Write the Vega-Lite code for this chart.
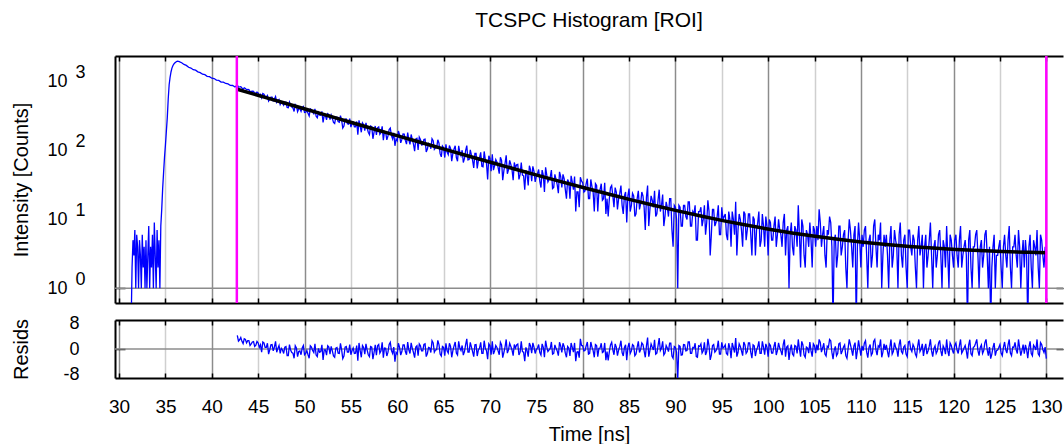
{
"$schema": "https://vega.github.io/schema/vega-lite/v6.json",
"padding": {"left": 10, "top": 9, "right": 0, "bottom": 0},
"spacing": 9,
"config": {
  "view": {"stroke": null},
  "font": "Liberation Sans",
  "axis": {"labelFont": "Liberation Sans", "titleFont": "Liberation Sans", "labelColor": "#000", "titleColor": "#000", "titleFontWeight": "normal", "labelOverlap": false, "labelFlush": false}
},
"datasets": {
"m": [{"t": 42.7}, {"t": 130.0}],
"fit": [
{"t":42.75,"f":775},{"t":45.25,"f":618.1},{"t":47.75,"f":493},{"t":50.25,"f":393.4},{"t":52.75,"f":314.1},{"t":55.25,"f":250.8},{"t":57.75,"f":200.5},{"t":60.25,"f":160.3},{"t":62.75,"f":128.4},{"t":65.25,"f":102.9},{"t":67.75,"f":82.57},{"t":70.25,"f":66.4},{"t":72.75,"f":53.51},{"t":75.25,"f":43.24},{"t":77.75,"f":35.06},{"t":80.25,"f":28.54},{"t":82.75,"f":23.35},{"t":85.25,"f":19.21},{"t":87.75,"f":15.92},{"t":90.25,"f":13.29},{"t":92.75,"f":11.2},{"t":95.25,"f":9.53},{"t":97.75,"f":8.21},{"t":100.25,"f":7.15},{"t":102.75,"f":6.3},{"t":105.25,"f":5.63},{"t":107.75,"f":5.1},{"t":110.25,"f":4.67},{"t":112.75,"f":4.33},{"t":115.25,"f":4.06},{"t":117.75,"f":3.845},{"t":120.25,"f":3.673},{"t":122.75,"f":3.536},{"t":125.25,"f":3.427},{"t":127.75,"f":3.34},{"t":130,"f":3.276}
],
"d": [
{"t":31.3,"c":0.3},{"t":31.4,"c":2},{"t":31.5,"c":5},{"t":31.6,"c":3},{"t":31.7,"c":7},{"t":31.8,"c":1},{"t":31.9,"c":6},{"t":32.0,"c":4},{"t":32.1,"c":1},{"t":32.2,"c":5},{"t":32.3,"c":3},{"t":32.4,"c":1},{"t":32.5,"c":6},{"t":32.6,"c":2},{"t":32.7,"c":4},{"t":32.8,"c":1},{"t":32.9,"c":5},{"t":33.0,"c":1},{"t":33.1,"c":3},{"t":33.2,"c":8},{"t":33.3,"c":1},{"t":33.4,"c":4},{"t":33.5,"c":2},{"t":33.6,"c":6},{"t":33.7,"c":1},{"t":33.8,"c":9},{"t":33.9,"c":3},{"t":34.0,"c":1},{"t":34.1,"c":7},{"t":34.2,"c":2},{"t":34.3,"c":5},{"t":34.4,"c":1},{"t":34.5,"c":8},
{"t":34.6,"c":14},{"t":34.7,"c":28},{"t":34.8,"c":48},{"t":34.9,"c":80},{"t":35.0,"c":120},{"t":35.1,"c":190},{"t":35.2,"c":300},{"t":35.3,"c":560},{"t":35.4,"c":900},{"t":35.5,"c":1150},{"t":35.6,"c":1380},{"t":35.7,"c":1570},{"t":35.8,"c":1700},{"t":35.9,"c":1790},{"t":36.0,"c":1860},{"t":36.1,"c":1910},{"t":36.2,"c":1960},{"t":36.3,"c":1985},{"t":36.4,"c":1970},{"t":36.5,"c":1945},{"t":36.6,"c":1915},{"t":36.75,"c":1880},{"t":37.0,"c":1775},{"t":37.25,"c":1720},{"t":37.5,"c":1615},{"t":37.75,"c":1575},{"t":38.0,"c":1490},{"t":38.25,"c":1465},{"t":38.5,"c":1385},{"t":38.75,"c":1350},{"t":39.0,"c":1280},{"t":39.25,"c":1262},{"t":39.5,"c":1195},{"t":39.75,"c":1180},{"t":40.0,"c":1120},{"t":40.25,"c":1108},{"t":40.5,"c":1050},{"t":40.75,"c":1040},{"t":41.0,"c":985},{"t":41.25,"c":982},{"t":41.5,"c":940},{"t":41.75,"c":928},{"t":42.0,"c":880},{"t":42.25,"c":878},{"t":42.5,"c":835},
{"t":42.75,"c":894,"r":4.3},{"t":43,"c":837,"r":2.9},{"t":43.25,"c":807,"r":2.4},{"t":43.5,"c":813,"r":3.2},{"t":43.75,"c":761,"r":1.9},{"t":44,"c":764,"r":2.6},{"t":44.25,"c":720,"r":1.6},{"t":44.5,"c":723,"r":2.3},{"t":44.75,"c":681,"r":1.2},{"t":45,"c":685,"r":1.9},
{"t":45.25,"c":656,"r":1.3},{"t":45.5,"c":672,"r":2.2},{"t":45.75,"c":605,"r":0.5},{"t":46,"c":630,"r":1.8},{"t":46.25,"c":555,"r":-0.3},{"t":46.5,"c":596,"r":1.4},{"t":46.75,"c":560,"r":0.6},{"t":47,"c":500,"r":-1.0},{"t":47.25,"c":550,"r":1.1},{"t":47.5,"c":508,"r":0.2},
{"t":47.75,"c":455,"r":-1.4},{"t":48,"c":504,"r":0.8},{"t":48.25,"c":417,"r":-2.1},{"t":48.5,"c":453,"r":-0.3},{"t":48.75,"c":416,"r":-1.3},{"t":49,"c":466,"r":1.0},{"t":49.25,"c":367,"r":-2.4},{"t":49.5,"c":405,"r":-0.6},{"t":49.75,"c":420,"r":0.3},{"t":50,"c":356,"r":-1.8},
{"t":50.25,"c":381,"r":-0.5},{"t":50.5,"c":317,"r":-2.9},{"t":50.75,"c":392,"r":0.6},{"t":51,"c":342,"r":-1.1},{"t":51.25,"c":314,"r":-1.9},{"t":51.5,"c":356,"r":0.2},{"t":51.75,"c":324,"r":-0.8},{"t":52,"c":256,"r":-3.4},{"t":52.25,"c":321,"r":-0.3},{"t":52.5,"c":343,"r":1.0},
{"t":52.75,"c":280,"r":-1.6},{"t":53,"c":293,"r":-0.6},{"t":53.25,"c":246,"r":-2.6},{"t":53.5,"c":304,"r":0.5},{"t":53.75,"c":257,"r":-1.4},{"t":54,"c":277,"r":-0.2},{"t":54.25,"c":226,"r":-2.2},{"t":54.5,"c":286,"r":0.8},{"t":54.75,"c":242,"r":-1.0},{"t":55,"c":219,"r":-1.8},
{"t":55.25,"c":257,"r":0.3},{"t":55.5,"c":221,"r":-1.3},{"t":55.75,"c":170,"r":-3.7},{"t":56,"c":225,"r":-0.5},{"t":56.25,"c":251,"r":1.1},{"t":56.5,"c":194,"r":-1.6},{"t":56.75,"c":213,"r":-0.3},{"t":57,"c":170,"r":-2.4},{"t":57.25,"c":222,"r":0.6},{"t":57.5,"c":185,"r":-1.1},
{"t":57.75,"c":168,"r":-1.9},{"t":58,"c":220,"r":1.4},{"t":58.25,"c":182,"r":-0.6},{"t":58.5,"c":141,"r":-2.7},{"t":58.75,"c":185,"r":0.2},{"t":59,"c":163,"r":-1.0},{"t":59.25,"c":211,"r":2.1},{"t":59.5,"c":147,"r":-1.4},{"t":59.75,"c":117,"r":-4.0},{"t":60,"c":138,"r":-1.6},
{"t":60.25,"c":168,"r":0.5},{"t":60.5,"c":145,"r":-0.8},{"t":60.75,"c":173,"r":1.3},{"t":61,"c":124,"r":-1.8},{"t":61.25,"c":143,"r":-0.3},{"t":61.5,"c":171,"r":1.9},{"t":61.75,"c":124,"r":-1.1},{"t":62,"c":147,"r":0.6},{"t":62.25,"c":102,"r":-2.1},{"t":62.5,"c":145,"r":1.0},
{"t":62.75,"c":121,"r":-0.6},{"t":63,"c":146,"r":1.6},{"t":63.25,"c":105,"r":-1.4},{"t":63.5,"c":124,"r":0.3},{"t":63.75,"c":148,"r":2.6},{"t":64,"c":104,"r":-1.0},{"t":64.25,"c":110,"r":-0.2},{"t":64.5,"c":128,"r":1.4},{"t":64.75,"c":81,"r":-2.2},{"t":65,"c":110,"r":0.5},
{"t":65.25,"c":123,"r":1.8},{"t":65.5,"c":87,"r":-1.3},{"t":65.75,"c":107,"r":0.8},{"t":66,"c":91,"r":-0.5},{"t":66.25,"c":117,"r":2.2},{"t":66.5,"c":70,"r":-1.9},{"t":66.75,"c":94,"r":0.3},{"t":67,"c":101,"r":1.1},{"t":67.25,"c":77,"r":-0.8},{"t":67.5,"c":118,"r":3.2},
{"t":67.75,"c":74,"r":-1.0},{"t":68,"c":86,"r":0.6},{"t":68.25,"c":56,"r":-2.4},{"t":68.5,"c":91,"r":1.4},{"t":68.75,"c":72,"r":-0.3},{"t":69,"c":94,"r":2.1},{"t":69.25,"c":58,"r":-1.4},{"t":69.5,"c":73,"r":0.2},{"t":69.75,"c":38,"r":-3.2},{"t":70,"c":77,"r":1.0},
{"t":70.25,"c":88,"r":2.4},{"t":70.5,"c":60,"r":-0.6},{"t":70.75,"c":68,"r":0.5},{"t":71,"c":46,"r":-1.8},{"t":71.25,"c":72,"r":1.3},{"t":71.5,"c":51,"r":-1.1},{"t":71.75,"c":85,"r":3.0},{"t":72,"c":53,"r":-0.3},{"t":72.25,"c":63,"r":0.8},{"t":72.5,"c":37,"r":-2.1},
{"t":72.75,"c":56,"r":0.3},{"t":73,"c":63,"r":1.6},{"t":73.25,"c":45,"r":-1.0},{"t":73.5,"c":44,"r":-0.8},{"t":73.75,"c":27,"r":-3.8},{"t":74,"c":45,"r":-0.5},{"t":74.25,"c":60,"r":1.9},{"t":74.5,"c":36,"r":-1.3},{"t":74.75,"c":50,"r":0.6},{"t":75,"c":42,"r":-0.2},
{"t":75.25,"c":53,"r":1.4},{"t":75.5,"c":29,"r":-1.9},{"t":75.75,"c":44,"r":0.5},{"t":76,"c":57,"r":2.6},{"t":76.25,"c":35,"r":-0.8},{"t":76.5,"c":41,"r":0.2},{"t":76.75,"c":28,"r":-1.6},{"t":77,"c":45,"r":1.3},{"t":77.25,"c":32,"r":-0.6},{"t":77.5,"c":49,"r":2.1},
{"t":77.75,"c":29,"r":-1.1},{"t":78,"c":39,"r":0.8},{"t":78.25,"c":20,"r":-2.6},{"t":78.5,"c":35,"r":0.3},{"t":78.75,"c":43,"r":1.9},{"t":79,"c":27,"r":-1.0},{"t":79.25,"c":13,"r":-3.8},{"t":79.5,"c":25,"r":-0.8},{"t":79.75,"c":41,"r":3.2},{"t":80,"c":34,"r":1.0},
{"t":80.25,"c":26,"r":-0.5},{"t":80.5,"c":39,"r":2.2},{"t":80.75,"c":20,"r":-1.4},{"t":81,"c":30,"r":0.6},{"t":81.25,"c":13,"r":-2.6},{"t":81.5,"c":31,"r":1.1},{"t":81.75,"c":26,"r":0.2},{"t":82,"c":33,"r":1.8},{"t":82.25,"c":20,"r":-0.8},{"t":82.5,"c":12,"r":-3.5},
{"t":82.75,"c":11,"r":-3.6},{"t":83,"c":29,"r":1.3},{"t":83.25,"c":22,"r":-0.3},{"t":83.5,"c":29,"r":1.6},{"t":83.75,"c":14,"r":-2.1},{"t":84,"c":24,"r":0.8},{"t":84.25,"c":16,"r":-1.1},{"t":84.5,"c":22,"r":0.5},{"t":84.75,"c":9,"r":-3.5},{"t":85,"c":28,"r":1.9},
{"t":85.25,"c":16,"r":-0.6},{"t":85.5,"c":22,"r":1.0},{"t":85.75,"c":12,"r":-1.6},{"t":86,"c":26,"r":2.4},{"t":86.25,"c":17,"r":-0.2},{"t":86.5,"c":22,"r":1.4},{"t":86.75,"c":7,"r":-2.6},{"t":87,"c":31,"r":3.6},{"t":87.25,"c":14,"r":-0.5},{"t":87.5,"c":19,"r":0.6},
{"t":87.75,"c":26,"r":2.9},{"t":88,"c":12,"r":-1.3},{"t":88.25,"c":27,"r":3.4},{"t":88.5,"c":16,"r":0.3},{"t":88.75,"c":8,"r":-1.9},{"t":89,"c":18,"r":1.1},{"t":89.25,"c":11,"r":-0.8},{"t":89.5,"c":20,"r":1.8},{"t":89.75,"c":4,"r":-2.9},{"t":90,"c":15,"r":0.5},
{"t":90.25,"c":1,"r":-9.6},{"t":90.5,"c":15,"r":0.8},{"t":90.75,"c":8,"r":-1.8},{"t":91,"c":16,"r":1.3},{"t":91.25,"c":10,"r":-0.5},{"t":91.5,"c":18,"r":2.2},{"t":91.75,"c":8,"r":-1.4},{"t":92,"c":12,"r":0.3},{"t":92.25,"c":5,"r":-2.4},{"t":92.5,"c":13,"r":1.0},
{"t":92.75,"c":15,"r":1.6},{"t":93,"c":10,"r":-0.6},{"t":93.25,"c":6,"r":-1.9},{"t":93.5,"c":19,"r":3.2},{"t":93.75,"c":3,"r":-3.4},{"t":94,"c":14,"r":1.1},{"t":94.25,"c":8,"r":-1.0},{"t":94.5,"c":11,"r":0.3},{"t":94.75,"c":6,"r":-1.6},{"t":95,"c":15,"r":2.1},
{"t":95.25,"c":11,"r":0.6},{"t":95.5,"c":6,"r":-1.4},{"t":95.75,"c":13,"r":1.8},{"t":96,"c":4,"r":-2.9},{"t":96.25,"c":10,"r":0.5},{"t":96.5,"c":18,"r":3.4},{"t":96.75,"c":7,"r":-1.1},{"t":97,"c":10,"r":0.8},{"t":97.25,"c":4,"r":-2.1},{"t":97.5,"c":12,"r":1.3},
{"t":97.75,"c":7,"r":-0.8},{"t":98,"c":12,"r":1.9},{"t":98.25,"c":3,"r":-2.9},{"t":98.5,"c":10,"r":1.0},{"t":98.75,"c":7,"r":-0.3},{"t":99,"c":13,"r":2.4},{"t":99.25,"c":5,"r":-1.4},{"t":99.5,"c":8,"r":0.5},{"t":99.75,"c":11,"r":1.6},{"t":100,"c":3,"r":-2.4},
{"t":100.25,"c":9,"r":1.1},{"t":100.5,"c":5,"r":-1.3},{"t":100.75,"c":11,"r":2.2},{"t":101,"c":6,"r":-0.5},{"t":101.25,"c":7,"r":0.3},{"t":101.5,"c":4,"r":-1.9},{"t":101.75,"c":12,"r":3.0},{"t":102,"c":7,"r":0.6},{"t":102.25,"c":1,"r":-3.4},{"t":102.5,"c":9,"r":1.4},
{"t":102.75,"c":3,"r":-2.1},{"t":103,"c":7,"r":0.8},{"t":103.25,"c":16,"r":3.0},{"t":103.5,"c":2,"r":-2.4},{"t":103.75,"c":8,"r":1.3},{"t":104,"c":2,"r":-2.6},{"t":104.25,"c":6,"r":0.3},{"t":104.5,"c":9,"r":2.2},{"t":104.75,"c":2,"r":-2.4},{"t":105,"c":7,"r":1.0},
{"t":105.25,"c":8,"r":1.4},{"t":105.5,"c":14,"r":3.0},{"t":105.75,"c":4,"r":-1.0},{"t":106,"c":8,"r":1.8},{"t":106.25,"c":2,"r":-2.2},{"t":106.5,"c":6,"r":0.5},{"t":106.75,"c":9,"r":2.6},{"t":107,"c":0.3,"r":-3.2},{"t":107.25,"c":6,"r":0.8},{"t":107.5,"c":3,"r":-1.4},
{"t":107.75,"c":8,"r":1.9},{"t":108,"c":4,"r":-0.6},{"t":108.25,"c":7,"r":1.3},{"t":108.5,"c":1,"r":-2.9},{"t":108.75,"c":10,"r":3.0},{"t":109,"c":4,"r":-0.3},{"t":109.25,"c":6,"r":1.0},{"t":109.5,"c":0.3,"r":-3.2},{"t":109.75,"c":9,"r":2.7},{"t":110,"c":2,"r":-2.1},
{"t":110.25,"c":4,"r":-0.5},{"t":110.5,"c":8,"r":2.6},{"t":110.75,"c":1,"r":-2.7},{"t":111,"c":6,"r":1.4},{"t":111.25,"c":3,"r":-1.3},{"t":111.5,"c":10,"r":3.0},{"t":111.75,"c":2,"r":-1.9},{"t":112,"c":5,"r":0.6},{"t":112.25,"c":1,"r":-2.6},{"t":112.5,"c":6,"r":1.6},
{"t":112.75,"c":6,"r":1.3},{"t":113,"c":1,"r":-2.6},{"t":113.25,"c":8,"r":3.0},{"t":113.5,"c":3,"r":-0.8},{"t":113.75,"c":5,"r":0.5},{"t":114,"c":1,"r":-2.4},{"t":114.25,"c":9,"r":3.0},{"t":114.5,"c":2,"r":-1.4},{"t":114.75,"c":6,"r":1.1},{"t":115,"c":1,"r":-2.4},
{"t":115.25,"c":7,"r":2.4},{"t":115.5,"c":3,"r":-0.8},{"t":115.75,"c":5,"r":0.6},{"t":116,"c":1,"r":-2.4},{"t":116.25,"c":8,"r":3.0},{"t":116.5,"c":4,"r":0.0},{"t":116.75,"c":1,"r":-2.2},{"t":117,"c":6,"r":1.6},{"t":117.25,"c":3,"r":-0.6},{"t":117.5,"c":9,"r":3.0},
{"t":117.75,"c":1,"r":-2.4},{"t":118,"c":5,"r":1.0},{"t":118.25,"c":3,"r":-0.6},{"t":118.5,"c":7,"r":2.7},{"t":118.75,"c":1,"r":-2.2},{"t":119,"c":4,"r":0.2},{"t":119.25,"c":8,"r":3.0},{"t":119.5,"c":1,"r":-2.2},{"t":119.75,"c":5,"r":1.1},{"t":120,"c":2,"r":-1.4},
{"t":120.25,"c":6,"r":1.9},{"t":120.5,"c":2,"r":-1.4},{"t":120.75,"c":8,"r":3.0},{"t":121,"c":3,"r":-0.6},{"t":121.25,"c":5,"r":1.1},{"t":121.5,"c":0.3,"r":-3.0},{"t":121.75,"c":7,"r":2.9},{"t":122,"c":1,"r":-2.1},{"t":122.25,"c":4,"r":0.8},{"t":122.5,"c":7,"r":3.0},
{"t":122.75,"c":1,"r":-2.1},{"t":123,"c":5,"r":1.3},{"t":123.25,"c":3,"r":-0.5},{"t":123.5,"c":7,"r":3.0},{"t":123.75,"c":1,"r":-2.1},{"t":124,"c":0.3,"r":-3.0},{"t":124.25,"c":4,"r":0.5},{"t":124.5,"c":1,"r":-2.1},{"t":124.75,"c":3,"r":-0.3},{"t":125,"c":5,"r":1.4},
{"t":125.25,"c":1,"r":-2.1},{"t":125.5,"c":6,"r":2.2},{"t":125.75,"c":2,"r":-1.3},{"t":126,"c":8,"r":3.0},{"t":126.25,"c":1,"r":-2.1},{"t":126.5,"c":4,"r":0.5},{"t":126.75,"c":3,"r":-0.3},{"t":127,"c":7,"r":3.0},{"t":127.25,"c":1,"r":-2.1},{"t":127.5,"c":5,"r":1.4},
{"t":127.75,"c":5,"r":1.3},{"t":128,"c":0.3,"r":-2.9},{"t":128.25,"c":6,"r":2.4},{"t":128.5,"c":1,"r":-2.1},{"t":128.75,"c":4,"r":0.6},{"t":129,"c":7,"r":3.0},{"t":129.25,"c":1,"r":-2.1},{"t":129.5,"c":5,"r":1.4},{"t":129.75,"c":2,"r":-1.1},{"t":130,"c":2,"r":-3.0},
{"t":42.875,"c":833,"r":2.5},{"t":43.125,"c":845,"r":3.6},{"t":43.375,"c":777,"r":1.7},{"t":43.625,"c":796,"r":3.0},{"t":43.875,"c":770,"r":2.6},{"t":44.125,"c":713,"r":1.1},{"t":44.375,"c":726,"r":2.2},{"t":44.625,"c":676,"r":0.8},{"t":44.875,"c":704,"r":2.4},{"t":45.125,"c":638,"r":0.5},
{"t":45.375,"c":582,"r":-1.0},{"t":45.625,"c":655,"r":1.9},{"t":45.875,"c":598,"r":0.5},{"t":46.125,"c":523,"r":-1.6},{"t":46.375,"c":596,"r":1.3},{"t":46.625,"c":527,"r":-0.6},{"t":46.875,"c":606,"r":2.4},{"t":47.125,"c":527,"r":0.2},{"t":47.375,"c":467,"r":-1.4},{"t":47.625,"c":488,"r":-0.3},
{"t":47.875,"c":505,"r":0.6},{"t":48.125,"c":422,"r":-2.1},{"t":48.375,"c":504,"r":1.4},{"t":48.625,"c":427,"r":-1.1},{"t":48.875,"c":369,"r":-2.9},{"t":49.125,"c":444,"r":0.3},{"t":49.375,"c":405,"r":-0.8},{"t":49.625,"c":371,"r":-1.8},{"t":49.875,"c":436,"r":1.1},{"t":50.125,"c":360,"r":-1.4},
{"t":50.375,"c":347,"r":-1.8},{"t":50.625,"c":403,"r":1.0},{"t":50.875,"c":361,"r":-0.5},{"t":51.125,"c":402,"r":1.6},{"t":51.375,"c":299,"r":-2.4},{"t":51.625,"c":325,"r":-1.0},{"t":51.875,"c":370,"r":1.3},{"t":52.125,"c":324,"r":-0.3},{"t":52.375,"c":279,"r":-1.9},{"t":52.625,"c":333,"r":0.6},
{"t":52.875,"c":327,"r":0.8},{"t":53.125,"c":255,"r":-2.2},{"t":53.375,"c":304,"r":0.3},{"t":53.625,"c":263,"r":-1.3},{"t":53.875,"c":321,"r":1.8},{"t":54.125,"c":212,"r":-3.0},{"t":54.375,"c":285,"r":0.6},{"t":54.625,"c":245,"r":-1.0},{"t":54.875,"c":291,"r":1.4},{"t":55.125,"c":244,"r":-0.5},
{"t":55.375,"c":221,"r":-1.4},{"t":55.625,"c":264,"r":1.1},{"t":55.875,"c":274,"r":1.9},{"t":56.125,"c":184,"r":-2.6},{"t":56.375,"c":236,"r":0.5},{"t":56.625,"c":252,"r":1.6},{"t":56.875,"c":184,"r":-1.8},{"t":57.125,"c":227,"r":0.8},{"t":57.375,"c":148,"r":-3.2},{"t":57.625,"c":227,"r":1.3},
{"t":57.875,"c":214,"r":1.0},{"t":58.125,"c":172,"r":-1.3},{"t":58.375,"c":225,"r":2.1},{"t":58.625,"c":190,"r":0.3},{"t":58.875,"c":143,"r":-2.2},{"t":59.125,"c":201,"r":1.4},{"t":59.375,"c":165,"r":-0.5},{"t":59.625,"c":181,"r":0.6},{"t":59.875,"c":147,"r":-1.1},{"t":60.125,"c":192,"r":1.8},
{"t":60.375,"c":129,"r":-1.9},{"t":60.625,"c":174,"r":1.3},{"t":60.875,"c":140,"r":-0.8},{"t":61.125,"c":182,"r":2.2},{"t":61.375,"c":123,"r":-1.4},{"t":61.625,"c":144,"r":0.2},{"t":61.875,"c":98,"r":-2.7},{"t":62.125,"c":150,"r":1.0},{"t":62.375,"c":157,"r":1.6},{"t":62.625,"c":120,"r":-0.6},
{"t":62.875,"c":144,"r":1.4},{"t":63.125,"c":95,"r":-2.4},{"t":63.375,"c":127,"r":0.5},{"t":63.625,"c":106,"r":-1.1},{"t":63.875,"c":139,"r":1.9},{"t":64.125,"c":109,"r":-0.3},{"t":64.375,"c":143,"r":2.7},{"t":64.625,"c":90,"r":-1.6},{"t":64.875,"c":116,"r":0.8},{"t":65.125,"c":79,"r":-2.1},
{"t":65.375,"c":95,"r":-0.6},{"t":65.625,"c":118,"r":1.8},{"t":65.875,"c":70,"r":-2.6},{"t":66.125,"c":105,"r":1.0},{"t":66.375,"c":79,"r":-1.3},{"t":66.625,"c":117,"r":2.4},{"t":66.875,"c":84,"r":-0.5},{"t":67.125,"c":67,"r":-1.9},{"t":67.375,"c":100,"r":1.4},{"t":67.625,"c":73,"r":-1.0},
{"t":67.875,"c":102,"r":2.1},{"t":68.125,"c":72,"r":-0.8},{"t":68.375,"c":91,"r":1.3},{"t":68.625,"c":55,"r":-2.2},{"t":68.875,"c":78,"r":0.3},{"t":69.125,"c":59,"r":-1.4},{"t":69.375,"c":97,"r":2.6},{"t":69.625,"c":65,"r":-0.5},{"t":69.875,"c":84,"r":1.6},{"t":70.125,"c":50,"r":-1.8},
{"t":70.375,"c":52,"r":-1.6},{"t":70.625,"c":74,"r":1.1},{"t":70.875,"c":57,"r":-0.6},{"t":71.125,"c":80,"r":2.1},{"t":71.375,"c":37,"r":-2.7},{"t":71.625,"c":65,"r":0.6},{"t":71.875,"c":46,"r":-1.3},{"t":72.125,"c":72,"r":1.8},{"t":72.375,"c":53,"r":-0.3},{"t":72.625,"c":67,"r":1.4},
{"t":72.875,"c":62,"r":1.3},{"t":73.125,"c":38,"r":-1.9},{"t":73.375,"c":67,"r":2.4},{"t":73.625,"c":43,"r":-1.0},{"t":73.875,"c":52,"r":0.5},{"t":74.125,"c":31,"r":-2.4},{"t":74.375,"c":53,"r":1.0},{"t":74.625,"c":59,"r":1.9},{"t":74.875,"c":35,"r":-1.4},{"t":75.125,"c":46,"r":0.3},
{"t":75.375,"c":36,"r":-1.1},{"t":75.625,"c":52,"r":1.6},{"t":75.875,"c":25,"r":-2.6},{"t":76.125,"c":44,"r":0.6},{"t":76.375,"c":38,"r":-0.3},{"t":76.625,"c":52,"r":2.2},{"t":76.875,"c":29,"r":-1.4},{"t":77.125,"c":38,"r":0.2},{"t":77.375,"c":24,"r":-2.1},{"t":77.625,"c":42,"r":1.0},
{"t":77.875,"c":45,"r":1.8},{"t":78.125,"c":27,"r":-1.3},{"t":78.375,"c":38,"r":0.8},{"t":78.625,"c":20,"r":-2.2},{"t":78.875,"c":35,"r":0.5},{"t":79.125,"c":42,"r":1.9},{"t":79.375,"c":25,"r":-1.0},{"t":79.625,"c":15,"r":-2.7},{"t":79.875,"c":36,"r":1.1},{"t":80.125,"c":25,"r":-0.6},
{"t":80.375,"c":33,"r":1.0},{"t":80.625,"c":20,"r":-1.6},{"t":80.875,"c":38,"r":2.2},{"t":81.125,"c":25,"r":-0.5},{"t":81.375,"c":33,"r":1.4},{"t":81.625,"c":13,"r":-2.4},{"t":81.875,"c":27,"r":0.3},{"t":82.125,"c":19,"r":-1.1},{"t":82.375,"c":34,"r":1.9},{"t":82.625,"c":20,"r":-0.8},
{"t":82.875,"c":20,"r":-0.8},{"t":83.125,"c":31,"r":2.1},{"t":83.375,"c":15,"r":-1.8},{"t":83.625,"c":25,"r":0.6},{"t":83.875,"c":20,"r":-0.3},{"t":84.125,"c":31,"r":2.6},{"t":84.375,"c":12,"r":-2.2},{"t":84.625,"c":25,"r":1.3},{"t":84.875,"c":22,"r":0.5},{"t":85.125,"c":13,"r":-1.4},
{"t":85.375,"c":24,"r":1.4},{"t":85.625,"c":11,"r":-2.1},{"t":85.875,"c":20,"r":0.6},{"t":86.125,"c":14,"r":-1.1},{"t":86.375,"c":25,"r":1.9},{"t":86.625,"c":15,"r":-0.6},{"t":86.875,"c":21,"r":1.0},{"t":87.125,"c":8,"r":-2.4},{"t":87.375,"c":22,"r":1.6},{"t":87.625,"c":15,"r":-0.3},
{"t":87.875,"c":11,"r":-1.6},{"t":88.125,"c":19,"r":1.0},{"t":88.375,"c":13,"r":-0.5},{"t":88.625,"c":23,"r":2.4},{"t":88.875,"c":11,"r":-1.3},{"t":89.125,"c":15,"r":0.3},{"t":89.375,"c":20,"r":1.8},{"t":89.625,"c":7,"r":-2.2},{"t":89.875,"c":16,"r":0.8},{"t":90.125,"c":10,"r":-1.0},
{"t":90.375,"c":16,"r":1.1},{"t":90.625,"c":8,"r":-1.9},{"t":90.875,"c":16,"r":1.4},{"t":91.125,"c":11,"r":-0.6},{"t":91.375,"c":18,"r":2.2},{"t":91.625,"c":8,"r":-1.4},{"t":91.875,"c":13,"r":0.5},{"t":92.125,"c":16,"r":1.8},{"t":92.375,"c":5,"r":-2.6},{"t":92.625,"c":13,"r":0.8},
{"t":92.875,"c":8,"r":-1.3},{"t":93.125,"c":16,"r":2.1},{"t":93.375,"c":9,"r":-0.8},{"t":93.625,"c":13,"r":1.0},{"t":93.875,"c":6,"r":-1.9},{"t":94.125,"c":14,"r":1.4},{"t":94.375,"c":9,"r":-0.5},{"t":94.625,"c":16,"r":2.6},{"t":94.875,"c":6,"r":-1.6},{"t":95.125,"c":10,"r":0.3},
{"t":95.375,"c":12,"r":1.3},{"t":95.625,"c":5,"r":-1.8},{"t":95.875,"c":10,"r":0.3},{"t":96.125,"c":13,"r":1.9},{"t":96.375,"c":6,"r":-1.1},{"t":96.625,"c":3,"r":-2.4},{"t":96.875,"c":12,"r":1.6},{"t":97.125,"c":7,"r":-0.6},{"t":97.375,"c":13,"r":2.2},{"t":97.625,"c":5,"r":-1.4},
{"t":97.875,"c":12,"r":1.9},{"t":98.125,"c":6,"r":-1.0},{"t":98.375,"c":11,"r":1.3},{"t":98.625,"c":3,"r":-2.2},{"t":98.875,"c":9,"r":0.6},{"t":99.125,"c":4,"r":-1.4},{"t":99.375,"c":12,"r":2.4},{"t":99.625,"c":4,"r":-1.8},{"t":99.875,"c":8,"r":0.5},{"t":100.125,"c":10,"r":1.6},
{"t":100.375,"c":5,"r":-1.3},{"t":100.625,"c":8,"r":0.8},{"t":100.875,"c":4,"r":-1.9},{"t":101.125,"c":10,"r":1.9},{"t":101.375,"c":6,"r":-0.6},{"t":101.625,"c":9,"r":1.4},{"t":101.875,"c":3,"r":-2.4},{"t":102.125,"c":8,"r":1.0},{"t":102.375,"c":6,"r":-0.3},{"t":102.625,"c":4,"r":-1.6},
{"t":102.875,"c":8,"r":1.1},{"t":103.125,"c":4,"r":-1.4},{"t":103.375,"c":6,"r":0.0},{"t":103.625,"c":10,"r":2.4},{"t":103.875,"c":3,"r":-1.9},{"t":104.125,"c":7,"r":0.6},{"t":104.375,"c":4,"r":-1.3},{"t":104.625,"c":5,"r":-0.6},{"t":104.875,"c":8,"r":1.6},{"t":105.125,"c":4,"r":-1.3},
{"t":105.375,"c":5,"r":-0.4},{"t":105.625,"c":9,"r":2.1},{"t":105.875,"c":6,"r":0.3},{"t":106.125,"c":3,"r":-1.6},{"t":106.375,"c":7,"r":0.9},{"t":106.625,"c":11,"r":3.0},{"t":106.875,"c":4,"r":-1.0},{"t":107.125,"c":5,"r":-0.3},{"t":107.375,"c":2,"r":-2.1},{"t":107.625,"c":8,"r":1.6},
{"t":107.875,"c":3,"r":-1.6},{"t":108.125,"c":6,"r":0.6},{"t":108.375,"c":2,"r":-2.1},{"t":108.625,"c":5,"r":0.2},{"t":108.875,"c":7,"r":1.4},{"t":109.125,"c":2,"r":-2.1},{"t":109.375,"c":8,"r":2.0},{"t":109.625,"c":4,"r":-0.5},{"t":109.875,"c":5,"r":0.3},{"t":110.125,"c":6,"r":1.0},
{"t":110.375,"c":7,"r":1.8},{"t":110.625,"c":3,"r":-1.0},{"t":110.875,"c":5,"r":0.5},{"t":111.125,"c":2,"r":-2.0},{"t":111.375,"c":8,"r":2.4},{"t":111.625,"c":4,"r":-0.3},{"t":111.875,"c":6,"r":1.0},{"t":112.125,"c":9,"r":3.0},{"t":112.375,"c":3,"r":-1.0},{"t":112.625,"c":4,"r":-0.3},
{"t":112.875,"c":3,"r":-0.8},{"t":113.125,"c":5,"r":0.6},{"t":113.375,"c":2,"r":-1.6},{"t":113.625,"c":7,"r":2.0},{"t":113.875,"c":4,"r":-0.2},{"t":114.125,"c":6,"r":1.3},{"t":114.375,"c":3,"r":-0.8},{"t":114.625,"c":5,"r":0.6},{"t":114.875,"c":2,"r":-1.6},{"t":115.125,"c":7,"r":2.2},
{"t":115.375,"c":4,"r":0.0},{"t":115.625,"c":6,"r":1.4},{"t":115.875,"c":2,"r":-1.6},{"t":116.125,"c":5,"r":0.8},{"t":116.375,"c":3,"r":-0.8},{"t":116.625,"c":6,"r":1.6},{"t":116.875,"c":4,"r":0.2},{"t":117.125,"c":2,"r":-1.6},{"t":117.375,"c":5,"r":0.9},{"t":117.625,"c":3,"r":-0.6},
{"t":117.875,"c":4,"r":0.2},{"t":118.125,"c":2,"r":-1.4},{"t":118.375,"c":6,"r":1.8},{"t":118.625,"c":3,"r":-0.6},{"t":118.875,"c":5,"r":1.0},{"t":119.125,"c":2,"r":-1.6},{"t":119.375,"c":3,"r":-0.6},{"t":119.625,"c":6,"r":1.9},{"t":119.875,"c":3,"r":-0.4},{"t":120.125,"c":5,"r":1.1},
{"t":120.375,"c":3,"r":-0.4},{"t":120.625,"c":5,"r":1.1},{"t":120.875,"c":2,"r":-1.3},{"t":121.125,"c":4,"r":0.3},{"t":121.375,"c":3,"r":-0.6},{"t":121.625,"c":5,"r":1.2},{"t":121.875,"c":2,"r":-1.5},{"t":122.125,"c":4,"r":0.5},{"t":122.375,"c":6,"r":1.8},{"t":122.625,"c":3,"r":-0.5},
{"t":122.875,"c":4,"r":0.5},{"t":123.125,"c":2,"r":-1.4},{"t":123.375,"c":6,"r":2.0},{"t":123.625,"c":3,"r":-0.3},{"t":123.875,"c":4,"r":0.6},{"t":124.125,"c":2,"r":-1.6},{"t":124.375,"c":6,"r":1.9},{"t":124.625,"c":3,"r":-0.5},{"t":124.875,"c":4,"r":0.5},{"t":125.125,"c":2,"r":-1.3},
{"t":125.375,"c":4,"r":0.5},{"t":125.625,"c":3,"r":-0.3},{"t":125.875,"c":5,"r":1.3},{"t":126.125,"c":2,"r":-1.3},{"t":126.375,"c":4,"r":0.6},{"t":126.625,"c":6,"r":2.1},{"t":126.875,"c":2,"r":-1.4},{"t":127.125,"c":4,"r":0.4},{"t":127.375,"c":3,"r":-0.4},{"t":127.625,"c":2,"r":-1.5},
{"t":127.875,"c":3,"r":-0.2},{"t":128.125,"c":4,"r":0.6},{"t":128.375,"c":2,"r":-1.4},{"t":128.625,"c":5,"r":1.2},{"t":128.875,"c":3,"r":-0.3},{"t":129.125,"c":2,"r":-1.5},{"t":129.375,"c":6,"r":2.0},{"t":129.625,"c":3,"r":-0.2},{"t":129.875,"c":4,"r":0.6}
]
},
"vconcat": [
{
  "width": 948, "height": 247,
  "title": {"text": "TCSPC Histogram [ROI]", "fontSize": 21, "fontWeight": "normal", "font": "Liberation Sans", "color": "#000", "offset": 24, "anchor": "middle", "frame": "group"},
  "layer": [
    {"data": {"values": [{}]}, "mark": {"type": "rule", "color": "#8c8c8c", "strokeWidth": 1.5},
     "encoding": {"y": {"datum": 1, "type": "quantitative", "scale": {"type": "log", "domain": [0.612, 2354], "nice": false}, "axis": null}}},
    {"data": {"name": "d"}, "mark": {"type": "line", "interpolate": "linear", "color": "#0000ff", "strokeWidth": 1.3, "clip": true},
     "encoding": {
       "x": {"field": "t", "type": "quantitative", "sort": "ascending", "scale": {"domain": [29.56, 131.8], "nice": false, "zero": false},
             "axis": {"orient": "bottom", "values": [30,35,40,45,50,55,60,65,70,75,80,85,90,95,100,105,110,115,120,125,130], "labels": false, "title": null, "domainColor": "#000", "domainWidth": 2, "tickSize": -5, "tickColor": "#000", "tickWidth": 1.5, "grid": true, "gridColor": {"condition": {"test": "datum.value % 10 === 0", "value": "#8c8c8c"}, "value": "#cfcfcf"}, "gridWidth": 1.5}},
       "y": {"field": "c", "type": "quantitative", "scale": {"type": "log", "domain": [0.612, 2354], "nice": false},
             "axis": {"orient": "left", "values": [1, 10, 100, 1000], "title": "Intensity [Counts]", "titleFontSize": 20, "titleX": -84, "labelExpr": "'10'", "labelFontSize": 18, "labelPadding": 58, "tickSize": -10, "tickWidth": 1.5, "tickColor": {"condition": {"test": "datum.value === 1", "value": "#000"}, "value": "transparent"}, "domainColor": "#000", "domainWidth": 2, "grid": false}},
       "order": {"field": "t", "type": "quantitative"}
     }},
    {"data": {"name": "fit"}, "mark": {"type": "line", "interpolate": "monotone", "color": "#000", "strokeWidth": 3.5, "clip": true},
     "encoding": {
       "x": {"field": "t", "type": "quantitative", "scale": {"domain": [29.56, 131.8], "nice": false, "zero": false},
             "axis": {"orient": "top", "values": [30,35,40,45,50,55,60,65,70,75,80,85,90,95,100,105,110,115,120,125,130], "labels": false, "title": null, "domainColor": "#000", "domainWidth": 2, "tickSize": -5, "tickColor": "#000", "tickWidth": 1.5, "grid": false}},
       "y": {"field": "f", "type": "quantitative", "scale": {"type": "log", "domain": [0.612, 2354], "nice": false},
             "axis": {"orient": "right", "values": [1], "labels": false, "title": null, "domain": false, "tickSize": -7, "tickColor": "#000", "tickWidth": 1.5, "grid": false}}
     }},
    {"data": {"name": "m"}, "mark": {"type": "rule", "color": "#ff00ff", "strokeWidth": 2.5},
     "encoding": {"x": {"field": "t", "type": "quantitative", "scale": {"domain": [29.56, 131.8], "nice": false, "zero": false}, "axis": null}}},
    {"data": {"name": "fit"}, "mark": {"type": "line", "opacity": 0},
     "encoding": {
       "x": {"field": "t", "type": "quantitative", "scale": {"domain": [29.56, 131.8], "nice": false, "zero": false}, "axis": null},
       "y": {"field": "f", "type": "quantitative", "scale": {"type": "log", "domain": [0.612, 2354], "nice": false},
             "axis": {"orient": "left", "values": [1, 10, 100, 1000], "title": null, "labelExpr": "'' + round(log(datum.value) / LN10)", "labelFontSize": 18, "labelPadding": 30, "labelOffset": -9, "ticks": false, "domain": false, "grid": false}}
     }}
  ],
  "resolve": {"axis": {"x": "independent", "y": "independent"}}
},
{
  "width": 948, "height": 58,
  "layer": [
    {"data": {"values": [{}]}, "mark": {"type": "rule", "color": "#8c8c8c", "strokeWidth": 1.5},
     "encoding": {"y": {"datum": 0, "type": "quantitative", "scale": {"domain": [-9.1, 9.1], "nice": false, "zero": false}, "axis": null}}},
    {"data": {"name": "d"}, "transform": [{"filter": "isValid(datum.r)"}],
     "mark": {"type": "line", "interpolate": "linear", "color": "#0000ff", "strokeWidth": 1.3, "clip": true},
     "encoding": {
       "x": {"field": "t", "type": "quantitative", "scale": {"domain": [29.56, 131.8], "nice": false, "zero": false},
             "axis": {"orient": "bottom", "values": [30,35,40,45,50,55,60,65,70,75,80,85,90,95,100,105,110,115,120,125,130], "title": "Time [ns]", "titleFontSize": 20, "titlePadding": 8, "labelFontSize": 19, "labelPadding": 24, "domainColor": "#000", "domainWidth": 2, "tickSize": -5, "tickColor": "#000", "tickWidth": 1.5, "grid": true, "gridColor": {"condition": {"test": "datum.value % 10 === 0", "value": "#8c8c8c"}, "value": "#cfcfcf"}, "gridWidth": 1.5}},
       "y": {"field": "r", "type": "quantitative", "scale": {"domain": [-9.1, 9.1], "nice": false, "zero": false},
             "axis": {"orient": "left", "values": [-8, 0, 8], "title": "Resids", "titleFontSize": 20, "titleX": -84, "labelExpr": "replace(datum.label, '\u2212', '-')", "labelFontSize": 18, "labelPadding": 46, "tickSize": -10, "tickWidth": 1.5, "tickColor": {"condition": {"test": "datum.value === 0", "value": "#000"}, "value": "transparent"}, "domainColor": "#000", "domainWidth": 2, "grid": false}},
       "order": {"field": "t", "type": "quantitative"}
     }},
    {"data": {"name": "d"}, "transform": [{"filter": "isValid(datum.r)"}],
     "mark": {"type": "line", "opacity": 0},
     "encoding": {
       "x": {"field": "t", "type": "quantitative", "scale": {"domain": [29.56, 131.8], "nice": false, "zero": false},
             "axis": {"orient": "top", "values": [30,35,40,45,50,55,60,65,70,75,80,85,90,95,100,105,110,115,120,125,130], "labels": false, "title": null, "domainColor": "#000", "domainWidth": 2, "tickSize": -5, "tickColor": "#000", "tickWidth": 1.5, "grid": false}},
       "y": {"field": "r", "type": "quantitative", "scale": {"domain": [-9.1, 9.1], "nice": false, "zero": false},
             "axis": {"orient": "right", "values": [0], "labels": false, "title": null, "domain": false, "tickSize": -7, "tickColor": "#000", "tickWidth": 1.5, "grid": false}}
     }}
  ],
  "resolve": {"axis": {"x": "independent", "y": "independent"}}
}
]
}
